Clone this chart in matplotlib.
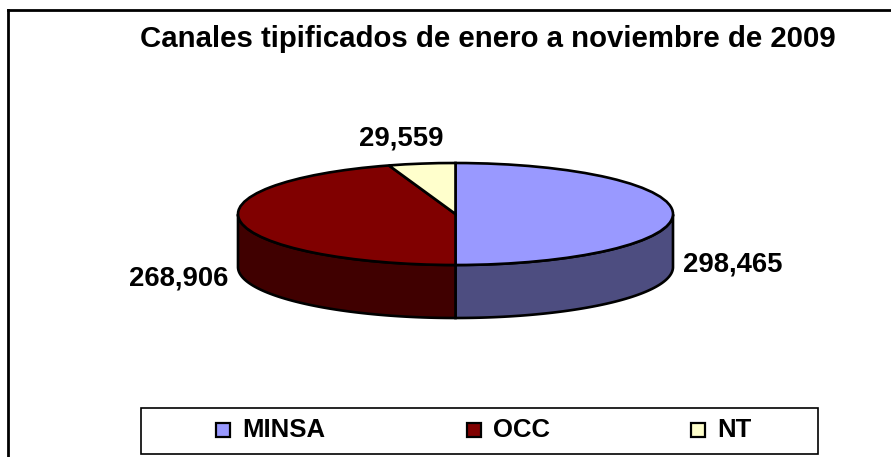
import matplotlib
matplotlib.use('Agg')
import matplotlib.pyplot as plt
from matplotlib.patches import Rectangle
import numpy as np

W, H = 891, 457

categories = ['MINSA', 'OCC', 'NT']
values = [298465, 268906, 29559]
top_colors = ['#9999FF', '#800000', '#FFFFCC']
side_colors = ['#4D4D80', '#400000', '#808066']

title = 'Canales tipificados de enero a noviembre de 2009'

plt.rcParams['font.family'] = ['Liberation Sans', 'DejaVu Sans']
plt.rcParams['font.weight'] = 'bold'


def fx(x):
    return x / W


def fy(y):
    return 1 - y / H


def add_box(x0, y0, x1, y1, **kw):
    fig.add_artist(Rectangle((fx(x0), fy(y1)), (x1 - x0) / W, (y1 - y0) / H,
                             transform=fig.transFigure, **kw))


fig = plt.figure(figsize=(W / 100, H / 100), dpi=100, facecolor='white')

# chart area: only the left and top border show
bg = fig.add_axes([fx(8), 0, 1 - fx(8) + 0.01, fy(10)])
bg.set_xticks([])
bg.set_yticks([])
for side in ['right', 'bottom']:
    bg.spines[side].set_visible(False)
for side in ['left', 'top']:
    bg.spines[side].set_linewidth(2.0)

# pie area, y is squashed so the circle turns into the ellipse
left, right, top, mid_bottom, bottom = 238, 673, 163, 265, 318
ax = fig.add_axes([fx(left), fy(bottom), (right - left) / W, (bottom - top) / H])
depth = (bottom - mid_bottom) / ((mid_bottom - top) / 2)

wedges, _ = ax.pie(values, colors=top_colors, startangle=90, counterclock=False,
                   wedgeprops={'edgecolor': 'black', 'linewidth': 1.9, 'zorder': 3})
ax.set_aspect('auto')
ax.set_xlim(-1, 1)
ax.set_ylim(-1 - depth, 1)
ax.axis('off')

# side walls, only the front half of the rim is visible
fractions = np.array(values) / sum(values)
start = 90.0
for frac, col in zip(fractions, side_colors):
    angles = np.linspace(start - frac * 360, start, 200)
    start -= frac * 360
    angles = angles[np.sin(np.radians(angles)) <= 1e-9]
    if len(angles) == 0:
        continue
    xs = np.cos(np.radians(angles))
    ys = np.sin(np.radians(angles))
    ax.fill(np.r_[xs, xs[::-1]], np.r_[ys, ys[::-1] - depth], facecolor=col,
            edgecolor='black', linewidth=1.9, zorder=2, clip_on=False)

for w in wedges:
    w.set_clip_on(False)

fig.text(fx(488), fy(39), title, fontsize=21.2, fontweight='bold', ha='center', va='center')

label_pos = [(733, 265), (179, 279), (401, 138)]
for val, (px, py) in zip(values, label_pos):
    fig.text(fx(px), fy(py), f'{val:,}', fontsize=19.8, fontweight='bold', ha='center', va='center')

# legend box with swatches placed by hand, the gaps are uneven in the original
add_box(141, 408, 818, 454, facecolor='white', edgecolor='black', linewidth=1.2)
swatch_x = [216, 467, 691]
for name, col, sx in zip(categories, top_colors, swatch_x):
    add_box(sx, 423, sx + 14, 437, facecolor=col, edgecolor='black', linewidth=1.6)
    fig.text(fx(sx + 26), fy(430), name, fontsize=18.5, fontweight='bold', ha='left', va='center')

fig.savefig('out.png', dpi=100, facecolor='white')
